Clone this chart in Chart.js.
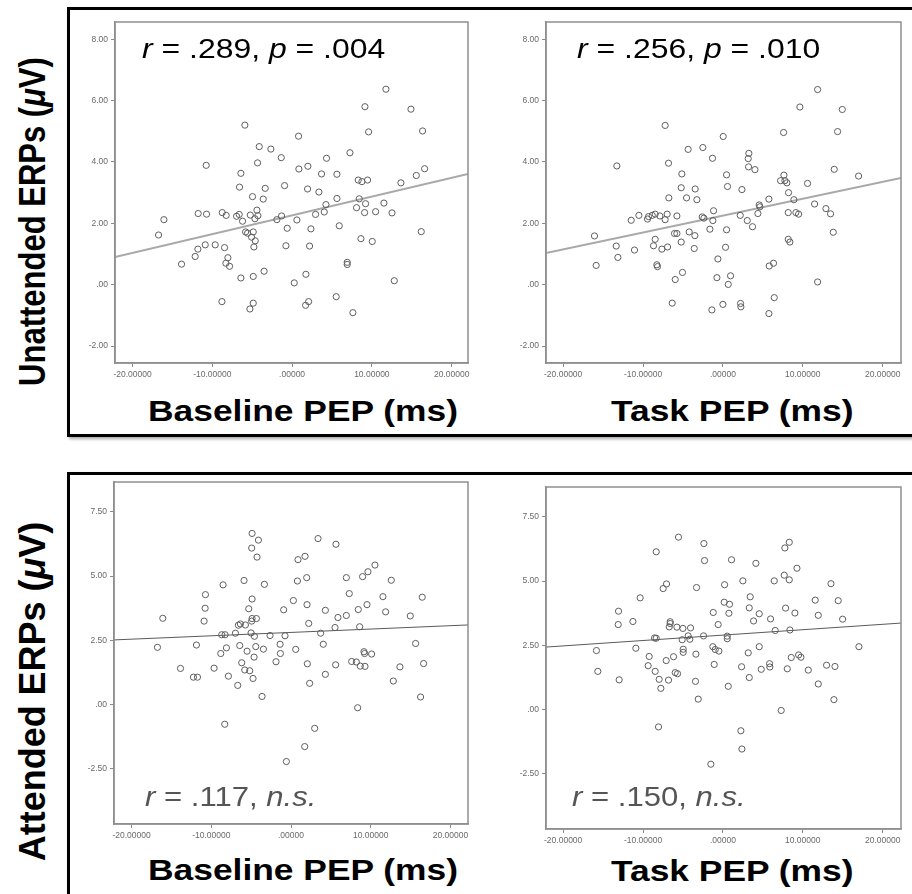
<!DOCTYPE html>
<html>
<head>
<meta charset="utf-8">
<script src="https://cdn.jsdelivr.net/npm/chart.js@4.4.0/dist/chart.umd.min.js"></script>
<style>
  body { margin: 0; background: #fff; width: 912px; height: 894px; overflow: hidden; position: relative;
         font-family: "Liberation Sans", Arial, sans-serif; }
  .frame { position: absolute; box-sizing: border-box; border: 3px solid #000; box-shadow: 2px 2px 3px rgba(0,0,0,.35); }
  canvas { position: absolute; }
  .txt { position: absolute; white-space: nowrap; line-height: 1; transform-origin: left top; }
  .stat { font-size: 28px; }
  .xtitle { font-size: 29px; font-weight: bold; color: #000; transform: scaleX(1.22); }
  .ytitle { position: absolute; width: 420px; text-align: center; font-size: 31px; font-weight: bold;
            line-height: 1; white-space: nowrap; transform-origin: center center; }
</style>
</head>
<body>
<div class="frame" style="left:67px;top:7px;width:860px;height:430px;"></div>
<div class="frame" style="left:67px;top:472px;width:860px;height:440px;"></div>

<canvas id="c1"></canvas>
<canvas id="c2"></canvas>
<canvas id="c3"></canvas>
<canvas id="c4"></canvas>

<div class="ytitle" style="left:-178px;top:206px;transform:rotate(-90deg) scaleY(1.2);">Unattended ERPs (<i>μ</i>V)</div>
<div class="ytitle" style="left:-178px;top:676px;transform:rotate(-90deg) scale(1.16, 1.2);">Attended ERPs (<i>μ</i>V)</div>

<div class="txt stat" style="left:142px;top:35px;color:#000;transform:scaleX(1.14);"><i>r</i> = .289, <i>p</i> = .004</div>
<div class="txt stat" style="left:577px;top:35px;color:#000;transform:scaleX(1.14);"><i>r</i> = .256, <i>p</i> = .010</div>
<div class="txt stat" style="left:145px;top:783px;color:#555;transform:scaleX(1.11);"><i>r</i> = .117, <i>n.s.</i></div>
<div class="txt stat" style="left:572px;top:783px;color:#555;transform:scaleX(1.11);"><i>r</i> = .150, <i>n.s.</i></div>

<div class="txt xtitle" style="left:148px;top:397px;">Baseline PEP (ms)</div>
<div class="txt xtitle" style="left:611px;top:397px;">Task PEP (ms)</div>
<div class="txt xtitle" style="left:148px;top:856px;">Baseline PEP (ms)</div>
<div class="txt xtitle" style="left:611px;top:857px;">Task PEP (ms)</div>

<script>
// tick values and labels (SPSS style)
const xTicks = [-20, -10, 0, 10, 20];
const xTickLabels = ['-20.00000', '-10.00000', '.00000', '10.00000', '20.00000'];
const yTicksTop = [-2, 0, 2, 4, 6, 8];
const yTickLabelsTop = ['-2.00', '.00', '2.00', '4.00', '6.00', '8.00'];
const yTicksBottom = [-2.5, 0, 2.5, 5, 7.5];
const yTickLabelsBottom = ['-2.50', '.00', '2.50', '5.00', '7.50'];

// Baseline PEP vs unattended ERPs
const baseUnattX = [11.76, 9.13, 14.90, -5.92, 9.59, 16.36, 0.81, -4.12, -2.66, 7.25, -1.36, 4.32, -10.77, -4.33, 0.85, 1.98, 3.69, 5.62, -6.42, 15.57, 16.61, 8.29, 8.75, 9.46, 13.64, -6.59, -3.37, -0.94, 1.94, 3.36, -4.96, -3.62, 5.62, 8.42, 4.24, 9.21, 11.51, 8.08, 9.09, 10.47, 12.52, -11.77, -10.72, -8.76, -8.26, -6.96, -6.63, -5.24, -4.41, -4.29, -4.66, -1.32, -1.91, 0.60, 2.94, 4.03, -16.07, -6.21, -16.74, -5.83, -5.58, -4.87, -5.08, -4.62, -0.61, 2.36, 5.91, 16.19, 8.63, 10.05, -10.89, -9.64, -11.81, -8.47, -4.79, -0.78, 2.19, -12.15, -13.86, -8.05, -8.30, -7.84, 6.91, 6.91, -3.51, -6.42, -4.87, 1.73, 0.27, 12.81, -8.80, -4.87, -5.29, 2.07, 1.69, 5.53, 7.62];
const baseUnattY = [6.37, 5.80, 5.72, 5.20, 4.98, 5.01, 4.84, 4.50, 4.42, 4.30, 4.14, 4.12, 3.89, 3.97, 3.77, 3.86, 3.61, 3.60, 3.63, 3.56, 3.78, 3.41, 3.36, 3.41, 3.32, 3.18, 3.14, 3.23, 3.12, 3.02, 2.87, 2.79, 2.81, 2.80, 2.61, 2.64, 2.66, 2.51, 2.35, 2.38, 2.34, 2.32, 2.30, 2.35, 2.26, 2.23, 2.29, 2.27, 2.43, 2.25, 2.15, 2.24, 2.12, 2.11, 2.29, 2.37, 2.12, 2.07, 1.62, 1.72, 1.68, 1.72, 1.55, 1.43, 1.84, 1.82, 1.92, 1.73, 1.50, 1.41, 1.30, 1.30, 1.16, 1.21, 1.23, 1.27, 1.26, 0.92, 0.67, 0.88, 0.70, 0.60, 0.73, 0.66, 0.44, 0.22, 0.27, 0.34, 0.06, 0.13, -0.55, -0.60, -0.79, -0.55, -0.67, -0.39, -0.91];

// Task PEP vs unattended ERPs
const taskUnattX = [11.86, 9.64, 14.95, -7.23, 7.60, 14.36, 0.04, -4.35, -2.51, 3.25, -1.30, 3.17, -13.28, -6.81, 3.21, 4.01, -5.14, 0.46, 13.94, 16.99, 7.64, 7.22, 7.76, 8.01, 10.60, -5.22, -3.47, 0.58, 2.38, -6.77, -4.55, -3.26, 5.76, 8.22, 8.89, 11.48, 4.55, 4.63, 12.90, 13.48, 8.18, 9.14, 9.48, 4.38, 2.17, 3.05, 3.71, -1.17, -2.59, -2.38, -1.26, -1.63, 0.46, -11.48, -10.52, -9.44, -9.31, -8.85, -8.48, -7.89, -7.23, -6.98, -5.76, -16.08, -13.36, -11.07, -8.48, -8.69, -7.64, -6.93, -6.06, -5.76, -4.22, -3.51, -5.22, -3.59, 0.33, 8.18, 8.39, 13.82, -15.87, -13.15, -8.27, -8.19, -0.63, 5.80, 6.34, -5.97, -5.06, -0.75, 0.96, 0.67, 11.86, -6.35, -1.38, 0.00, 2.21, 2.25, 6.43, 5.76];
const taskUnattY = [6.36, 5.79, 5.71, 5.19, 4.96, 4.99, 4.83, 4.41, 4.47, 4.28, 4.12, 4.11, 3.87, 3.96, 3.84, 3.75, 3.61, 3.58, 3.76, 3.54, 3.57, 3.39, 3.39, 3.32, 3.30, 3.16, 3.12, 3.20, 3.10, 2.83, 2.83, 2.77, 2.79, 3.00, 2.77, 2.63, 2.60, 2.54, 2.48, 2.31, 2.35, 2.35, 2.30, 2.32, 2.26, 2.09, 1.89, 2.41, 2.21, 2.17, 2.09, 1.81, 1.79, 2.10, 2.26, 2.14, 2.22, 2.26, 2.30, 2.24, 2.12, 2.30, 2.24, 1.59, 1.26, 1.13, 1.48, 1.27, 1.16, 1.23, 1.67, 1.67, 1.72, 1.60, 1.39, 1.18, 1.22, 1.48, 1.39, 1.71, 0.63, 0.89, 0.65, 0.59, 0.84, 0.61, 0.70, 0.17, 0.40, 0.23, 0.29, 0.01, 0.09, -0.60, -0.82, -0.64, -0.61, -0.72, -0.42, -0.94];

// Baseline PEP vs attended ERPs
const baseAttX = [-4.88, -4.09, -4.93, -4.26, 3.39, 5.64, 0.88, 1.76, 10.53, 9.65, 8.98, 6.94, 12.58, 1.97, 0.80, -5.89, -3.34, -8.52, -10.73, 7.31, 11.53, 16.46, -4.88, 0.30, -10.77, -5.30, -0.92, 2.01, 4.31, 8.44, 9.53, 11.87, -16.08, -10.90, -4.93, -4.88, -4.34, -6.60, -6.35, -5.72, 5.89, 6.94, 14.96, 2.22, 5.52, 8.61, -5.01, -4.59, -6.97, -8.69, -8.27, -2.63, -0.75, 3.72, -16.75, -11.86, -6.43, -8.10, -4.42, -3.46, -5.51, -8.81, -4.63, -1.37, -1.33, 0.59, 4.05, 15.63, 9.15, 9.23, 10.11, -1.88, -6.18, -13.86, -9.65, -5.80, -5.18, 2.05, 5.60, 7.61, 8.19, 8.69, 9.28, 13.66, 16.63, -12.24, -11.73, -7.85, -4.76, 4.31, -6.68, 2.34, 12.83, -3.63, 16.25, 8.36, -8.31, 2.97, 1.72, -0.58];
const baseAttY = [6.66, 6.40, 6.09, 5.74, 6.46, 6.24, 5.64, 5.77, 5.43, 5.17, 4.98, 4.94, 4.84, 4.94, 4.81, 4.83, 4.68, 4.66, 4.28, 4.32, 4.20, 4.18, 4.11, 4.05, 3.75, 3.73, 3.69, 3.89, 3.67, 3.70, 3.89, 3.61, 3.36, 3.25, 3.25, 3.35, 3.35, 3.09, 3.14, 3.10, 3.39, 3.47, 3.45, 3.16, 3.00, 3.03, 2.79, 2.66, 2.78, 2.72, 2.72, 2.69, 2.68, 2.78, 2.23, 2.32, 2.30, 2.21, 2.26, 2.16, 2.08, 1.99, 1.85, 2.35, 1.99, 2.15, 2.35, 2.38, 2.06, 1.99, 1.97, 1.67, 1.63, 1.41, 1.42, 1.35, 1.32, 1.59, 1.55, 1.68, 1.66, 1.50, 1.49, 1.47, 1.60, 1.07, 1.07, 1.11, 1.02, 1.18, 0.75, 0.83, 0.92, 0.32, 0.30, -0.12, -0.76, -0.92, -1.63, -2.21];

// Task PEP vs attended ERPs
const taskAttX = [-5.56, -2.38, -8.35, -2.30, 1.08, 4.13, 7.76, 8.31, 9.27, 7.68, 8.31, 6.43, 2.50, 0.21, 13.53, -7.06, -7.48, -3.30, -10.36, 3.42, 11.56, 14.44, 0.16, 0.83, 3.30, -13.07, -1.21, 0.75, 4.55, 7.85, 9.02, 11.94, 14.99, -13.11, -11.27, -6.60, -6.60, -6.72, -5.76, -5.01, -4.05, -0.59, 3.84, 5.97, 6.55, 8.39, -8.56, -8.35, -5.10, -4.35, -4.14, -2.42, 0.54, 0.54, -15.83, -10.90, -4.97, -4.97, -1.26, -0.96, -0.50, -3.38, 3.17, 4.55, 17.03, -9.23, -7.10, -6.18, 8.56, 9.48, 9.77, -9.36, -8.48, -5.97, -5.68, -1.09, 2.34, 4.80, 5.84, 5.88, 8.06, 10.69, 12.98, 14.03, -15.66, -12.99, -7.98, -7.77, -6.81, -3.43, 0.67, 3.30, 11.94, -3.09, 13.90, 7.30, -8.06, 2.25, 2.38, -1.51];
const taskAttY = [6.71, 6.46, 6.14, 5.80, 5.83, 5.69, 6.29, 6.51, 5.50, 5.23, 5.05, 5.01, 5.01, 4.86, 4.90, 4.89, 4.71, 4.75, 4.35, 4.39, 4.26, 4.24, 4.18, 4.10, 3.96, 3.83, 3.78, 3.75, 3.73, 3.95, 3.76, 3.67, 3.52, 3.31, 3.43, 3.42, 3.35, 3.22, 3.21, 3.16, 3.18, 3.31, 3.45, 3.53, 3.08, 3.10, 2.79, 2.78, 2.72, 2.87, 2.74, 2.87, 2.86, 2.76, 2.30, 2.39, 2.35, 2.23, 2.45, 2.34, 2.28, 2.16, 2.21, 2.45, 2.45, 2.07, 1.91, 2.06, 2.03, 2.13, 2.04, 1.71, 1.49, 1.44, 1.40, 1.76, 1.67, 1.57, 1.79, 1.66, 1.59, 1.54, 1.73, 1.68, 1.49, 1.16, 1.18, 0.83, 1.15, 1.10, 0.91, 1.25, 1.00, 0.41, 0.39, -0.03, -0.67, -0.82, -1.53, -2.12];

// fit lines (intercept, slope) per panel
const fitIntercept = [2.26, 2.25, 2.81, 2.90];
const fitSlope = [0.061, 0.055, 0.0131, 0.021];

// plot frame on all four sides
const plotFrame = {
  id: 'plotFrame',
  afterDraw(chart) {
    const a = chart.chartArea;
    const ctx = chart.ctx;
    ctx.save();
    ctx.strokeStyle = '#8f8f8f';
    ctx.lineWidth = 1.5;
    ctx.strokeRect(a.left, a.top, a.right - a.left, a.bottom - a.top);
    ctx.restore();
  }
};

const Y_W = 45, X_H = 24, PAD_T = 12, PAD_R = 14;

const panels = [
  { id: 'c1', xs: baseUnattX, ys: baseUnattY, box: [115, 22, 468, 363], xr: [-22.2, 22.05], yr: [-2.55, 8.56],
    yt: yTicksTop, yl: yTickLabelsTop, lineColor: '#a9a9a9', lineWidth: 2 },
  { id: 'c2', xs: taskUnattX, ys: taskUnattY, box: [546, 22, 901, 363], xr: [-22.15, 22.3], yr: [-2.55, 8.56],
    yt: yTicksTop, yl: yTickLabelsTop, lineColor: '#a9a9a9', lineWidth: 2 },
  { id: 'c3', xs: baseAttX, ys: baseAttY, box: [114, 482, 468, 824], xr: [-22.2, 22.2], yr: [-4.64, 8.66],
    yt: yTicksBottom, yl: yTickLabelsBottom, lineColor: '#5a5a5a', lineWidth: 1 },
  { id: 'c4', xs: taskAttX, ys: taskAttY, box: [546, 487, 901, 829], xr: [-22.15, 22.3], yr: [-4.64, 8.66],
    yt: yTicksBottom, yl: yTickLabelsBottom, lineColor: '#5a5a5a', lineWidth: 1 }
];

const tickFont = { family: '"Liberation Sans", Arial, sans-serif', size: 8.5 };

panels.forEach((p, i) => {
  const canvas = document.getElementById(p.id);
  const w = (p.box[2] - p.box[0]) + Y_W + PAD_R;
  const h = (p.box[3] - p.box[1]) + X_H + PAD_T;
  canvas.width = w;
  canvas.height = h;
  canvas.style.left = (p.box[0] - Y_W) + 'px';
  canvas.style.top = (p.box[1] - PAD_T) + 'px';

  const points = p.xs.map((x, k) => ({ x: x, y: p.ys[k] }));
  const fit = p.xr.map(x => ({ x: x, y: fitIntercept[i] + fitSlope[i] * x }));

  new Chart(canvas.getContext('2d'), {
    type: 'scatter',
    data: {
      datasets: [
        {
          data: points,
          pointRadius: 3.1,
          pointBorderWidth: 1,
          borderColor: '#5e5e5e',
          backgroundColor: 'rgba(0,0,0,0)',
          pointHoverRadius: 3.1
        },
        {
          type: 'line',
          data: fit,
          borderColor: p.lineColor,
          borderWidth: p.lineWidth,
          pointRadius: 0,
          fill: false
        }
      ]
    },
    options: {
      responsive: false,
      animation: false,
      events: [],
      layout: { padding: { top: PAD_T, right: PAD_R, left: 0, bottom: 0 } },
      plugins: { legend: { display: false }, tooltip: { enabled: false } },
      scales: {
        x: {
          type: 'linear',
          min: p.xr[0],
          max: p.xr[1],
          afterBuildTicks: (scale) => { scale.ticks = xTicks.map(v => ({ value: v })); },
          afterFit: (scale) => { scale.height = X_H; },
          ticks: {
            autoSkip: false,
            maxRotation: 0,
            padding: 3,
            color: '#6a6a6a',
            font: tickFont,
            callback: (v, idx) => xTickLabels[idx]
          },
          grid: { drawOnChartArea: false, tickLength: 4, color: '#8a8a8a' },
          border: { color: '#8f8f8f', width: 1.5 }
        },
        y: {
          type: 'linear',
          min: p.yr[0],
          max: p.yr[1],
          afterBuildTicks: (scale) => { scale.ticks = p.yt.map(v => ({ value: v })); },
          afterFit: (scale) => { scale.width = Y_W; },
          ticks: {
            autoSkip: false,
            padding: 3,
            color: '#6a6a6a',
            font: tickFont,
            callback: (v, idx) => p.yl[idx]
          },
          grid: { drawOnChartArea: false, tickLength: 4, color: '#8a8a8a' },
          border: { color: '#8f8f8f', width: 1.5 }
        }
      }
    },
    plugins: [plotFrame]
  });
});
</script>
</body>
</html>
